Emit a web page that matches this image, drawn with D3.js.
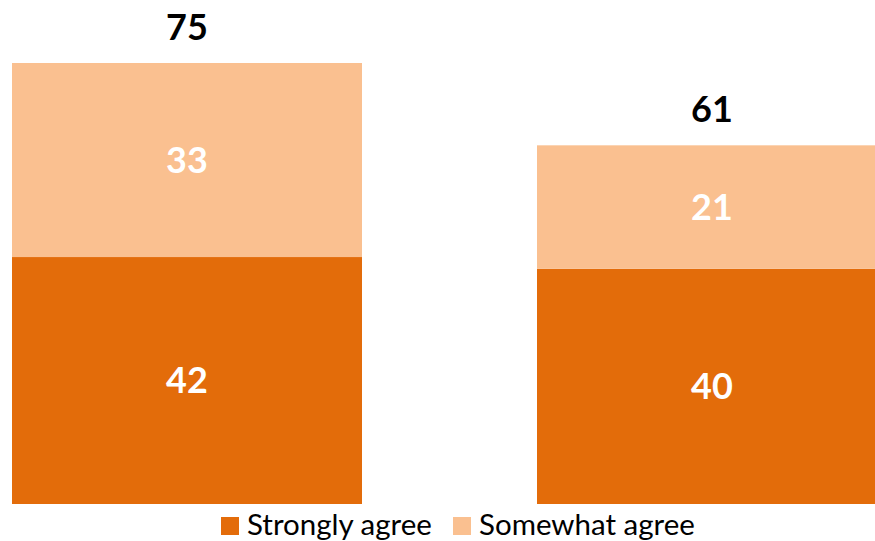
<!DOCTYPE html>
<html><head><meta charset="utf-8">
<script src="https://cdn.jsdelivr.net/npm/d3@7"></script>
<style>body{margin:0;background:#fff}svg{display:block}</style>
</head><body>
<svg id="c" width="875" height="541"></svg>
<script>
const categories = ["Group 1", "Group 2"];
const seriesNames = ["Strongly agree", "Somewhat agree"];
const strongly = [42, 40];
const somewhat = [33, 21];
const totals = [75, 61];
const colors = ["#E36C0A", "#FAC090"];

const svg = d3.select("#c");
const font = "Lato, 'Open Sans', sans-serif";
const x = d3.scaleBand().domain(categories).range([12, 887]).paddingInner(1/3).paddingOuter(0);
const y = d3.scaleLinear().domain([0, 75]).range([504, 504 - 75*5.88]);

const data = categories.map((c,i)=>({c, vals:[strongly[i], somewhat[i]], total: totals[i]}));

data.forEach(d=>{
  let base = 0;
  d.vals.forEach((v,j)=>{
    const y0 = y(base), y1 = y(base+v);
    svg.append("rect").attr("x", x(d.c)).attr("width", x.bandwidth())
      .attr("y", y1).attr("height", y0-y1).attr("fill", colors[j]);
    svg.append("text").attr("x", x(d.c)+x.bandwidth()/2).attr("y", (y0+y1)/2)
      .attr("dy","0.36em").attr("text-anchor","middle")
      .attr("font-family", font).attr("font-weight","bold").attr("font-size", 36)
      .attr("fill","#fff").text(v);
    base += v;
  });
  svg.append("text").attr("x", x(d.c)+x.bandwidth()/2).attr("y", y(d.total)-23)
    .attr("text-anchor","middle").attr("font-family", font).attr("font-weight","bold")
    .attr("font-size", 36).attr("fill","#000").text(d.total);
});

const legX = [221, 453];
seriesNames.forEach((s,j)=>{
  svg.append("rect").attr("x", legX[j]).attr("y", 517).attr("width", 18).attr("height", 18).attr("fill", colors[j]);
  svg.append("text").attr("x", legX[j]+26).attr("y", 535).attr("font-family", font)
    .attr("font-size", 29.5).attr("fill","#000").text(s);
});
</script>
</body></html>
